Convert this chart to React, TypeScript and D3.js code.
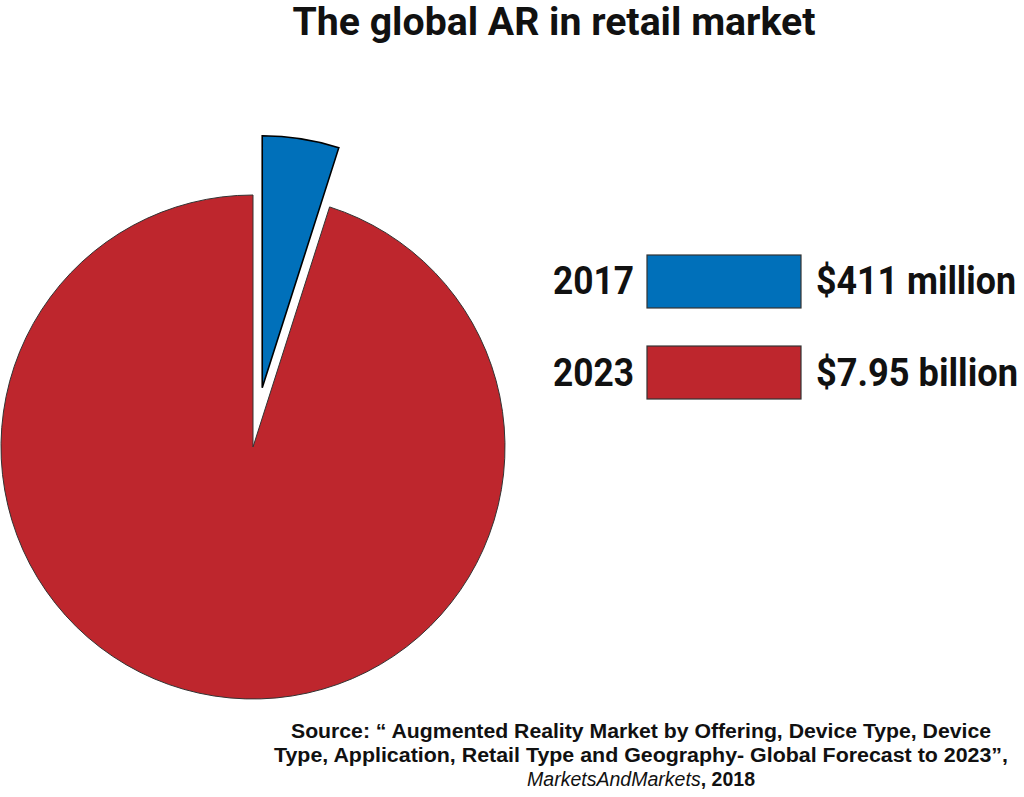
import { useMemo } from "react";
import * as d3 from "d3";

// market size, millions USD
const years = ["2017", "2023"];
const values = [411, 7950];
const valueLabels = ["$411 million", "$7.95 billion"];
const colors = ["#0070ba", "#be262d"];
const title = "The global AR in retail market";
const sourceLines = [
  "Source: \u201c Augmented Reality Market by Offering, Device Type, Device",
  "Type, Application, Retail Type and Geography- Global Forecast to 2023\u201d,",
];

const W = 1024;
const H = 797;
const cx = 253;
const cy = 447;
const radius = 252;
const explode = 60;

const headFont = "Roboto, 'DejaVu Sans Condensed', sans-serif";

export default function App() {
  const slices = useMemo(() => {
    const pie = d3.pie<number>().sort(null).startAngle(0).endAngle(2 * Math.PI);
    return pie(values);
  }, []);

  const arc = d3.arc<d3.PieArcDatum<number>>().innerRadius(0).outerRadius(radius);

  const legendY = d3.scaleBand<string>().domain(years).range([255, 399]).paddingInner(0.418);

  return (
    <svg
      width={W}
      height={H}
      style={{ position: "absolute", left: 0, top: 0, background: "#fff" }}
    >
      <text
        x={W / 2 + 42}
        y={35}
        textAnchor="middle"
        fontFamily={headFont}
        fontWeight={700}
        fontSize={39}
        textLength={523}
        lengthAdjust="spacingAndGlyphs"
        fill="#111"
      >
        {title}
      </text>

      <g transform={`translate(${cx},${cy})`}>
        {slices
          .slice()
          .reverse()
          .map((s) => {
            const i = s.index;
            const mid = (s.startAngle + s.endAngle) / 2;
            const off = i === 0 ? explode : 0;
            const dx = Math.sin(mid) * off;
            const dy = -Math.cos(mid) * off;
            return (
              <path
                key={i}
                d={arc(s) || ""}
                transform={`translate(${dx},${dy})`}
                fill={colors[i]}
                stroke={i === 0 ? "#000" : "#333"}
                strokeWidth={i === 0 ? 1.6 : 1}
                strokeLinejoin="miter"
              />
            );
          })}
      </g>

      {years.map((y, i) => {
        const top = legendY(y) || 0;
        const h = legendY.bandwidth();
        const base = top + h / 2 + 13;
        return (
          <g key={y}>
            <text
              x={553}
              y={base}
              fontFamily={headFont}
              fontWeight={700}
              fontSize={39}
              textLength={81}
              lengthAdjust="spacingAndGlyphs"
              fill="#111"
            >
              {y}
            </text>
            <rect
              x={647}
              y={top}
              width={154}
              height={h}
              fill={colors[i]}
              stroke="#333"
              strokeWidth={1.2}
            />
            <text
              x={816}
              y={base}
              fontFamily={headFont}
              fontWeight={700}
              fontSize={39}
              textLength={i === 0 ? 200 : 202}
              lengthAdjust="spacingAndGlyphs"
              fill="#111"
            >
              {valueLabels[i]}
            </text>
          </g>
        );
      })}

      <g fontFamily="'Liberation Sans', Arial, sans-serif" fontSize={20} fill="#111" textAnchor="middle">
        {sourceLines.map((l, i) => (
          <text
            key={i}
            x={641}
            y={738 + i * 24}
            fontWeight={700}
            textLength={i === 0 ? 700 : 734}
            lengthAdjust="spacingAndGlyphs"
          >
            {l}
          </text>
        ))}
        <text x={641} y={786} textLength={228} lengthAdjust="spacingAndGlyphs">
          <tspan fontStyle="italic">MarketsAndMarkets</tspan>
          <tspan fontWeight={700}>, 2018</tspan>
        </text>
      </g>
    </svg>
  );
}
